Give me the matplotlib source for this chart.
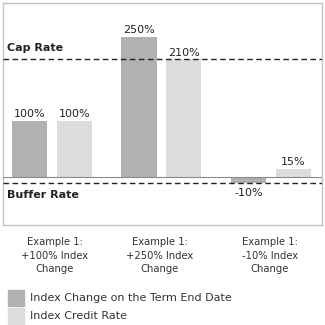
import matplotlib
matplotlib.use("Agg")
import matplotlib.pyplot as plt
from matplotlib.patches import Rectangle

categories = ["Example 1:\n+100% Index\nChange", "Example 1:\n+250% Index\nChange", "Example 1:\n-10% Index\nChange"]
index_change = [100, 250, -10]
index_credit = [100, 210, 15]
cap_rate = 210
buffer_rate = -10
series_names = ["Index Change on the Term End Date", "Index Credit Rate"]

dark = "#b1b1b1"
light = "#dcdcdc"

W = H = 325
fig = plt.figure(figsize=(3.25, 3.25), dpi=100)
ax = fig.add_axes([3 / W, 1 - 225 / H, 319 / W, 222 / H])

width = 0.32
off = 0.205
xs = range(len(categories))
for i in xs:
    ax.bar(i - off, index_change[i], width, color=dark, zorder=2)
    ax.bar(i + off, index_credit[i], width, color=light, zorder=2)
    v = index_change[i]
    if v >= 0:
        ax.text(i - off, v + 3, f"{v}%", ha="center", va="bottom", fontsize=8, color="#222222")
    else:
        ax.text(i - off, v - 9, f"{v}%", ha="center", va="top", fontsize=8, color="#222222")
    v = index_credit[i]
    ax.text(i + off, v + 3, f"{v}%", ha="center", va="bottom", fontsize=8, color="#222222")

ax.axhline(0, color="#8a8a8a", lw=0.8, zorder=3)
ax.axhline(cap_rate, color="#222222", lw=1.0, ls=(0, (4, 2.5)), zorder=3)
ax.axhline(buffer_rate, color="#222222", lw=1.0, ls=(0, (4, 2.5)), zorder=3)
ax.text(-0.41, cap_rate + 12, "Cap Rate", fontsize=8, fontweight="bold", ha="left", va="bottom", color="#222222")
ax.text(-0.41, buffer_rate - 13, "Buffer Rate", fontsize=8, fontweight="bold", ha="left", va="top", color="#222222")

ax.set_xlim(-0.447, 2.466)
ax.set_ylim(-85.7, 310.7)
ax.set_xticks([])
ax.set_yticks([])
for s in ax.spines.values():
    s.set_color("#c4c4c4")
    s.set_linewidth(1.0)

label_x = [55, 160, 270]
for i, c in enumerate(categories):
    fig.text(label_x[i] / W, 1 - 237 / H, c, ha="center", va="top", fontsize=8,
             family="DejaVu Sans", fontstretch="condensed", color="#333333", linespacing=1.45)

legend_y = [298, 316]
cols = [dark, light]
for j in range(2):
    fig.patches.append(Rectangle((8 / W, 1 - (legend_y[j] + 8) / H), 16 / W, 16 / H,
                                 transform=fig.transFigure, color=cols[j]))
    fig.text(30 / W, 1 - legend_y[j] / H, series_names[j], ha="left", va="center", fontsize=8,
             color="#333333")

fig.savefig("out.png", dpi=100, facecolor="white")
